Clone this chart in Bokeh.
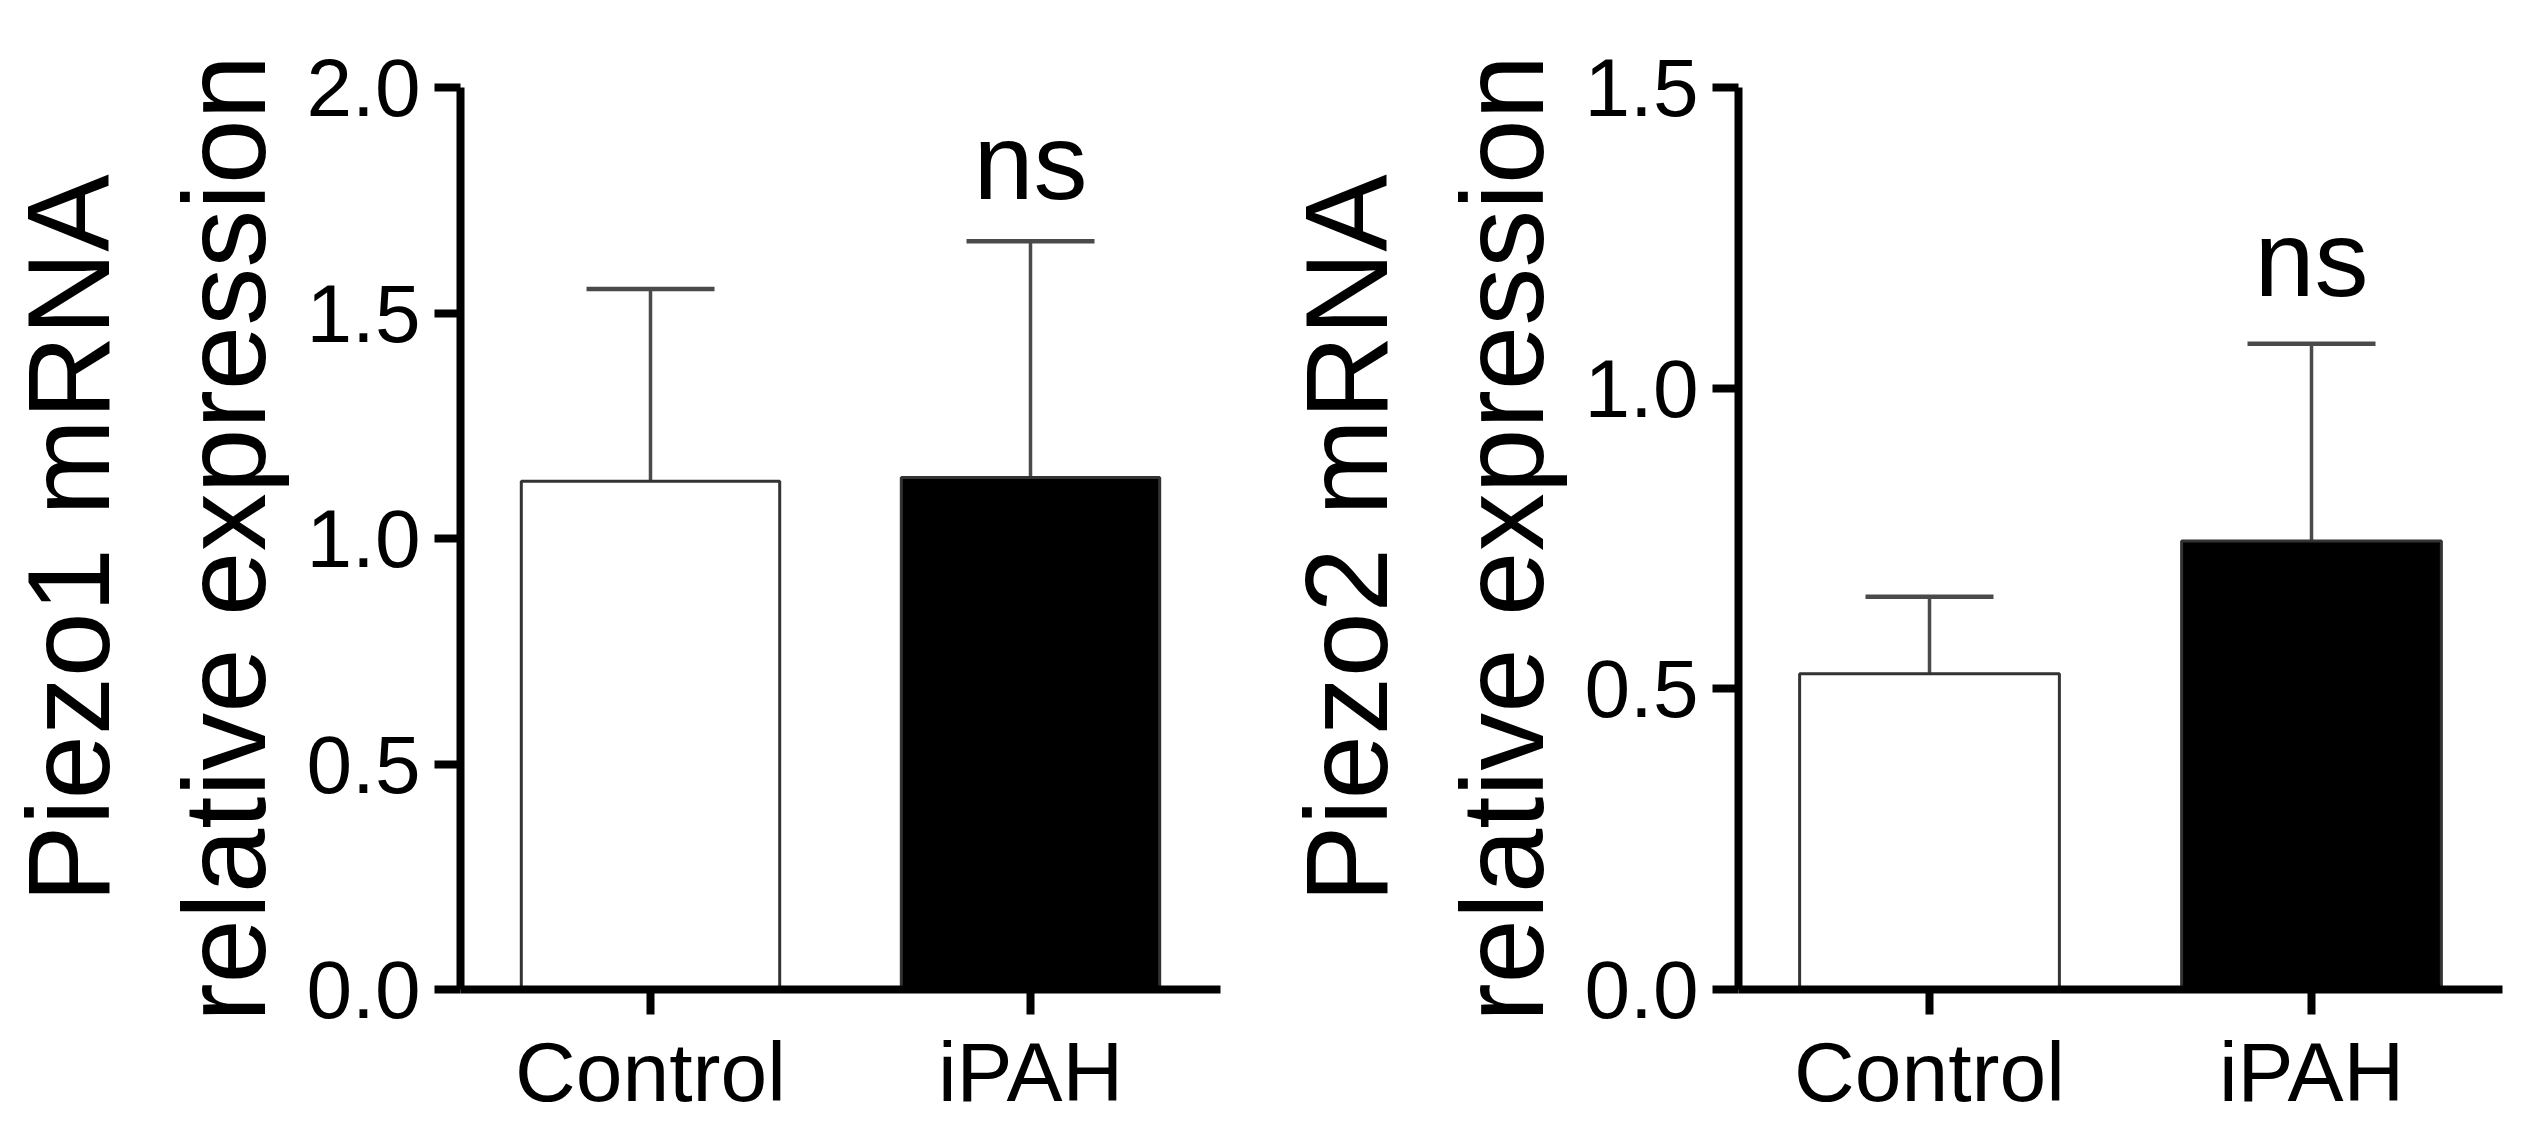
from bokeh.plotting import figure
from bokeh.layouts import row
from bokeh.models import (ColumnDataSource, FactorRange, Range1d, Whisker, TeeHead,
                          FixedTicker, NumeralTickFormatter)
from bokeh.core.properties import value
from bokeh.embed import file_html
from bokeh.resources import INLINE

# ---- data ----
categories = ["Control", "iPAH"]
bar_colors = ["white", "black"]

piezo1_mean = [1.127, 1.135]
piezo1_sem = [0.426, 0.524]

piezo2_mean = [0.525, 0.746]
piezo2_sem = [0.128, 0.328]

piezo1_ticks = [0.0, 0.5, 1.0, 1.5, 2.0]
piezo2_ticks = [0.0, 0.5, 1.0, 1.5]

sig_label = "ns"
piezo1_sig_y = 1.768
piezo2_sig_y = 1.164

FONT = "Liberation Sans"


def make_panel(title_text, means, sems, ymax, ticks, sig_y, border_left, frame_w, border_right):
    src = ColumnDataSource(dict(
        cat=categories,
        mean=means,
        upper=[m + s for m, s in zip(means, sems)],
        color=bar_colors,
    ))
    p = figure(
        x_range=FactorRange(factors=categories, range_padding=0),
        y_range=Range1d(0, ymax),
        frame_width=frame_w, frame_height=902,
        min_border_left=border_left, min_border_right=border_right,
        min_border_top=87, min_border_bottom=142,
        output_backend="svg", toolbar_location=None,
        background_fill_color="white", border_fill_color="white",
    )
    p.outline_line_color = None
    p.xgrid.visible = False
    p.ygrid.visible = False

    p.vbar(x="cat", top="mean", width=0.68, source=src,
           fill_color="color", line_color="#333333", line_width=3)

    w = Whisker(base="cat", lower="mean", upper="upper", source=src,
                line_color="#4a4a4a", line_width=3.5,
                upper_head=TeeHead(size=128, line_color="#4a4a4a", line_width=4.5),
                lower_head=None)
    p.add_layout(w)

    p.text(x=[categories[1]], y=[sig_y], text=[sig_label],
           text_font=value(FONT), text_font_size="108px",
           text_align="center", text_baseline="alphabetic",
           text_color="black", x_offset=0, y_offset=-31)

    # y axis
    ya = p.yaxis[0]
    ya.ticker = FixedTicker(ticks=ticks)
    ya.formatter = NumeralTickFormatter(format="0.0")
    ya.minor_tick_line_color = None
    ya.axis_line_width = 8
    ya.axis_line_color = "black"
    ya.major_tick_line_width = 8
    ya.major_tick_line_color = "black"
    ya.major_tick_out = 26
    ya.major_tick_in = 0
    ya.major_label_standoff = 14
    ya.major_label_text_font = FONT
    ya.major_label_text_font_size = "82px"
    ya.major_label_text_color = "black"
    ya.axis_label = title_text
    ya.axis_label_text_font = FONT
    ya.axis_label_text_font_size = "116px"
    ya.axis_label_text_font_style = "normal"
    ya.axis_label_text_color = "black"
    ya.axis_label_standoff = 14

    # x axis
    xa = p.xaxis[0]
    xa.axis_line_width = 8
    xa.axis_line_color = "black"
    xa.major_tick_line_width = 8
    xa.major_tick_line_color = "black"
    xa.major_tick_out = 25
    xa.major_tick_in = 0
    xa.minor_tick_line_color = None
    xa.major_label_standoff = 10
    xa.major_label_text_font = FONT
    xa.major_label_text_font_size = "84px"
    xa.major_label_text_color = "black"
    xa.major_label_orientation = "horizontal"
    return p


p1 = make_panel("Piezo1 mRNA\nrelative expression", piezo1_mean, piezo1_sem, 2.0,
                piezo1_ticks, piezo1_sig_y, 456, 760, 46)
p2 = make_panel("Piezo2 mRNA\nrelative expression", piezo2_mean, piezo2_sem, 1.5,
                piezo2_ticks, piezo2_sig_y, 472, 764, 25)

layout = row(p1, p2, spacing=0)
open("out.html", "w").write(file_html(layout, INLINE))
